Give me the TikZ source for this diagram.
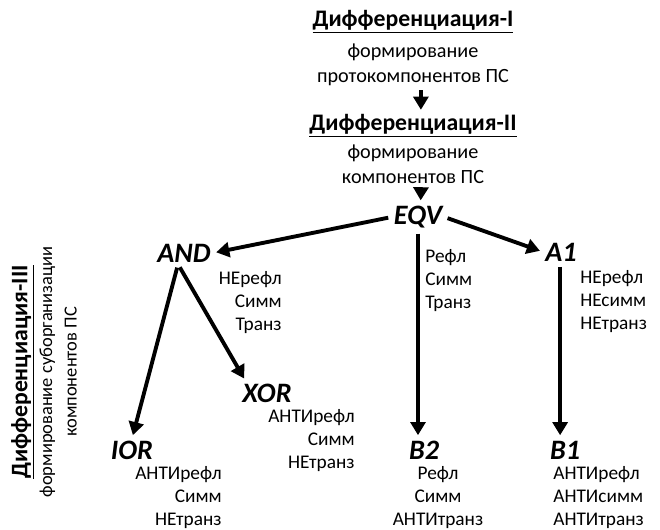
\documentclass[tikz,border=0pt]{standalone}
\usepackage{fontspec}
\setmainfont{Carlito}
\usepackage{tikz}
\usetikzlibrary{arrows.meta}

\tikzset{
  head/.style={font=\fontsize{13.5}{16}\selectfont\bfseries},
  sub/.style={font=\fontsize{11.5}{14}\selectfont, align=center},
  rel/.style={font=\bfseries\itshape\fontsize{16}{18}\selectfont, inner sep=1pt},
  prop/.style={font=\fontsize{11}{13}\selectfont, inner sep=0pt},
  arr/.style={line width=2.2pt, shorten >=2pt, shorten <=2pt, -{Triangle[length=7.5pt,width=8.5pt]}}
}

\begin{document}
\begin{tikzpicture}[x=0.02cm,y=-0.02cm]
\useasboundingbox (0,0) rectangle (660,529);
\node[head] (H1) at (413,22){\underline{Дифференциация-I}};
\node[sub] (T1) at (413,65){формирование\\протокомпонентов ПС};
\node[head] (H2) at (413,126){\underline{Дифференциация-II}};
\node[sub] (T2) at (413,164){формирование\\компонентов ПС};
\node[rel] (EQV) at (418,217){EQV};
\node[rel] (AND) at (184,253){AND};
\node[rel] (A1) at (561,252){A1};
\node[rel] (XOR) at (267,393){XOR};
\node[rel] (IOR) at (132,450){IOR};
\node[rel] (B2) at (424,450){B2};
\node[rel] (B1) at (565,450){B1};
% свойства
\node[prop,align=right,anchor=north east] (pAND) at (282,271){НЕрефл\\Симм\\Транз};
\node[prop,align=left,anchor=north west] (pEQV) at (425,249){Рефл\\Симм\\Транз};
\node[prop,align=left,anchor=north west] (pA1) at (580,270){НЕрефл\\НЕсимм\\НЕтранз};
\node[prop,align=right,anchor=north east] (pXOR) at (355,409){АНТИрефл\\Симм\\НЕтранз};
\node[prop,align=right,anchor=north east] (pIOR) at (222,466){АНТИрефл\\Симм\\НЕтранз};
\node[prop,align=center,anchor=north] (pB2) at (438,466){Рефл\\Симм\\АНТИтранз};
\node[prop,align=left,anchor=north west] (pB1) at (553,466){АНТИрефл\\АНТИсимм\\АНТИтранз};
\node[rotate=90,align=center,font=\fontsize{10.5}{14}\selectfont] (D3) at (44,372)
  {{\fontsize{13.5}{14}\selectfont\bfseries\underline{Дифференциация-III}}\\формирование суборганизации\\компонентов ПС};

\draw[arr,shorten <=-1pt,shorten >=-1pt] ([xshift=4.5pt]T1.south) -- ([xshift=4.5pt]H2.north);
\draw[arr,shorten <=-1pt] ([xshift=4.5pt]T2.south) -- ([xshift=1.5pt]EQV.north);
\draw[arr] (EQV.west) -- (AND.east);
\draw[arr] (EQV.east) -- (A1.west);
\draw[arr] (EQV.south) -- (EQV.south |- B2.north);
\draw[arr] ([xshift=-0.5pt]A1.south) -- ([xshift=-0.5pt]A1.south |- B1.north);
\draw[arr] ([xshift=-3.4pt]AND.south) -- ([xshift=-12pt]XOR.north);
\draw[arr] ([xshift=-3.4pt]AND.south) -- (IOR.north);
\end{tikzpicture}
\end{document}
